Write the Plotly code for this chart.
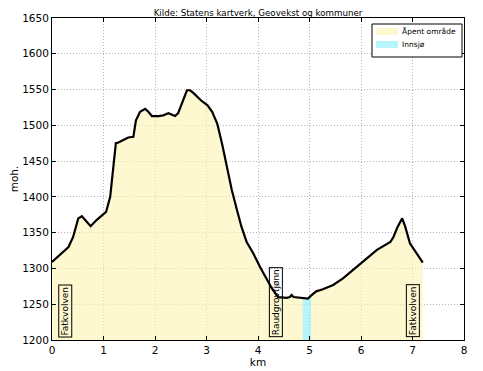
import plotly.graph_objects as go

# Elevation profile (km, m above sea level)
km = [0.00, 0.10, 0.22, 0.32, 0.41, 0.51, 0.58, 0.64, 0.75, 0.87, 0.96, 1.05, 1.13, 1.18,
      1.24, 1.29, 1.35, 1.42, 1.48, 1.58, 1.63, 1.71, 1.81, 1.87, 1.94, 2.07, 2.16, 2.26,
      2.39, 2.45, 2.55, 2.62, 2.68, 2.75, 2.89, 3.02, 3.11, 3.21, 3.30, 3.40, 3.49, 3.59,
      3.68, 3.78, 3.91, 4.04, 4.17, 4.27, 4.39, 4.56, 4.62, 4.65, 4.69, 4.87, 4.97, 5.03,
      5.13, 5.26, 5.46, 5.65, 5.84, 5.98, 6.31, 6.57, 6.63, 6.71, 6.80, 6.86, 6.95, 7.08, 7.20]
moh = [1309, 1316, 1323, 1330, 1344, 1370, 1373, 1368, 1359, 1368, 1374, 1379, 1400, 1433,
       1475, 1476, 1478, 1480, 1483, 1484, 1507, 1519, 1523, 1519, 1513, 1513, 1514, 1517,
       1513, 1517, 1535, 1549, 1549, 1545, 1535, 1528, 1519, 1502, 1475, 1442, 1410, 1382,
       1358, 1337, 1321, 1302, 1284, 1272, 1260, 1259, 1260, 1263, 1260, 1259, 1258, 1262,
       1268, 1271, 1277, 1286, 1298, 1306, 1326, 1337, 1344, 1358, 1370, 1358, 1335, 1321, 1308]

lake_start, lake_end = 4.87, 5.03

# Place names along the profile
place_names = ["Fatkvolven", "Raudgrovtjønn", "Fatkvolven"]
place_km = [0.25, 4.35, 7.00]

legend_names = ["Åpent område", "Innsjø"]
legend_colors = ["rgba(252,243,175,0.6)", "rgba(137,237,248,0.6)"]
legend_swatch = ["#fdf8cf", "#b8f4fb"]

xticks = [0, 1, 2, 3, 4, 5, 6, 7, 8]
yticks = [1200, 1250, 1300, 1350, 1400, 1450, 1500, 1550, 1600, 1650]

open1 = [(x, y) for x, y in zip(km, moh) if x <= lake_start]
lake = [(x, y) for x, y in zip(km, moh) if lake_start <= x <= lake_end]
open2 = [(x, y) for x, y in zip(km, moh) if x >= lake_end]

OFF = 8  # page body margin
W, H = 483 - OFF, 371 - OFF
# plot area in screen pixels
SL, SR, ST, SB = 52, 464, 18, 340
L, R, T, B = SL - OFF, SR - OFF, ST - OFF, SB - OFF


def px_x(p):
    return (p - SL) / (SR - SL)


def px_y(p):
    return (SB - p) / (SB - ST)


fig = go.Figure()
for seg, col, nm in [(open1, legend_colors[0], legend_names[0]),
                     (open2, legend_colors[0], legend_names[0]),
                     (lake, legend_colors[1], legend_names[1])]:
    fig.add_trace(go.Scatter(x=[p[0] for p in seg], y=[p[1] for p in seg], fill="tozeroy",
                             mode="none", fillcolor=col, name=nm, showlegend=False))
fig.add_trace(go.Scatter(x=km, y=moh, mode="lines", line=dict(color="black", width=2.2),
                         showlegend=False, hoverinfo="skip"))

for name, x in zip(place_names, place_km):
    fig.add_annotation(x=x, y=1204, text=name, textangle=-90, showarrow=False,
                       xanchor="center", yanchor="bottom",
                       font=dict(size=9, color="black", family="DejaVu Sans"),
                       bordercolor="black", borderwidth=1, borderpad=1,
                       bgcolor="rgba(255,255,255,0)")

# Legend box (drawn manually to match compact matplotlib legend)
shapes = [dict(type="rect", xref="paper", yref="paper",
               x0=px_x(372), x1=px_x(462), y0=px_y(57), y1=px_y(24),
               line=dict(color="black", width=1), fillcolor="white", layer="above")]
for i, (nm, col) in enumerate(zip(legend_names, legend_swatch)):
    yc = 31.5 + i * 13
    shapes.append(dict(type="rect", xref="paper", yref="paper",
                       x0=px_x(376), x1=px_x(398), y0=px_y(yc + 3.5), y1=px_y(yc - 3.5),
                       line=dict(width=0), fillcolor=col, layer="above"))
    fig.add_annotation(xref="paper", yref="paper", x=px_x(400), y=px_y(yc), text=nm,
                       showarrow=False, xanchor="left", yanchor="middle",
                       font=dict(size=7.5, color="black", family="DejaVu Sans"))

axis_common = dict(showline=True, linecolor="black", linewidth=1, mirror="ticks",
                   ticks="inside", ticklen=4, tickcolor="black", automargin=False,
                   showgrid=True, gridcolor="#b5b5b5", griddash="1px,2px", gridwidth=1,
                   zeroline=False, tickfont=dict(size=10.5, color="black", family="DejaVu Sans"))

fig.update_layout(
    width=W, height=H,
    margin=dict(l=L, r=W - R, t=T, b=H - B),
    paper_bgcolor="white", plot_bgcolor="white",
    font=dict(family="DejaVu Sans", color="black"),
    title=dict(text="Kilde: Statens kartverk, Geovekst og kommuner",
               x=(L + R) / 2 / W, xanchor="center", y=1 - (12.5 - OFF) / H, yanchor="middle",
               font=dict(size=8.7, color="black")),
    xaxis=dict(range=[0, 8], tickvals=xticks, **axis_common,
               title=dict(text="km", font=dict(size=10.5), standoff=2)),
    yaxis=dict(range=[1200, 1650], tickvals=yticks, **axis_common,
               title=dict(text="moh.", font=dict(size=10.5), standoff=4)),
    shapes=shapes,
    showlegend=False,
)

fig.write_html("out.html")
